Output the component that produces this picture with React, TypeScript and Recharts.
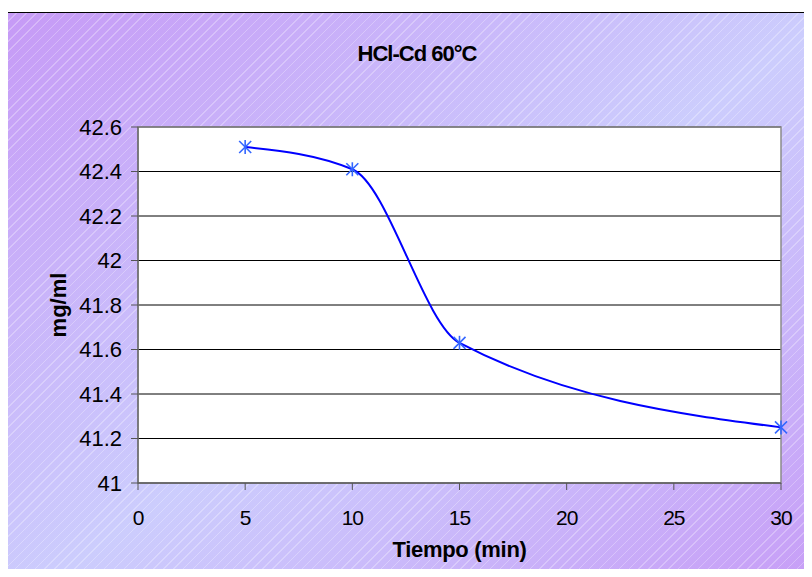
import { CartesianGrid, Label, Line, LineChart, ReferenceArea, XAxis, YAxis } from "recharts";

const tiempo = [5, 10, 15, 30];
const concentracion = [42.51, 42.41, 41.63, 41.25];
const xTicks = [0, 5, 10, 15, 20, 25, 30];
const yTicks = [41, 41.2, 41.4, 41.6, 41.8, 42, 42.2, 42.4, 42.6];

const data = tiempo.map((t, i) => ({ t, v: concentracion[i] }));

const FONT = "Arial, 'Liberation Sans', sans-serif";

function Asterisk(props: any) {
  const { cx, cy } = props;
  if (cx == null || cy == null) return null;
  const r = 6;
  return (
    <g stroke="#3366ff" strokeWidth={1.6}>
      <line x1={cx - r} y1={cy - r} x2={cx + r} y2={cy + r} />
      <line x1={cx - r} y1={cy + r} x2={cx + r} y2={cy - r} />
      <line x1={cx} y1={cy - r - 1} x2={cx} y2={cy + r + 1} />
    </g>
  );
}

export default function App() {
  return (
    <div style={{ position: "relative", width: 812, height: 577, margin: -8, overflow: "hidden" }}>
      <div
        style={{
          position: "absolute",
          left: 5,
          top: 12,
          width: 830,
          height: 600,
          border: "1px solid #000",
          background:
            "repeating-linear-gradient(135deg, rgba(255,255,255,0.28) 0px, rgba(255,255,255,0.28) 1px, transparent 1px, transparent 7px), linear-gradient(to bottom right, #c69af6 0%, #cccdfd 50%, #c79af6 100%)",
        }}
      />
      <div
        style={{
          position: "absolute",
          left: 0,
          top: 41,
          width: 812,
          textAlign: "center",
          paddingLeft: 22,
          boxSizing: "border-box",
          fontFamily: FONT,
          fontWeight: "bold",
          fontSize: 22,
          letterSpacing: -1,
        }}
      >
        HCl-Cd 60°C
      </div>
      <LineChart
        width={812}
        height={577}
        data={data}
        margin={{ top: 127, right: 31, bottom: 0, left: 0 }}
        style={{ position: "absolute", left: 0, top: 0 }}
      >
        <CartesianGrid vertical={false} stroke="#000" fill="#fff" fillOpacity={1} />
        <ReferenceArea x1={0} x2={30} y1={41} y2={42.6} fill="none" stroke="#8a8a8a" strokeWidth={1.5} />
        <XAxis
          dataKey="t"
          type="number"
          domain={[0, 30]}
          ticks={xTicks}
          interval={0}
          stroke="#555"
          tickSize={7}
          tickMargin={20}
          tick={{ fill: "#000", fontSize: 21, fontFamily: FONT, letterSpacing: -1 }}
          height={94}
        >
          <Label
            value="Tiempo (min)"
            position="insideTop"
            offset={58}
            style={{ fill: "#000", fontSize: 22, fontWeight: "bold", fontFamily: FONT, letterSpacing: -0.3 }}
          />
        </XAxis>
        <YAxis
          type="number"
          domain={[41, 42.6]}
          ticks={yTicks}
          interval={0}
          width={138}
          stroke="#555"
          tickSize={7}
          tickMargin={9}
          tick={{ fill: "#000", fontSize: 22, fontFamily: FONT }}
        >
          <Label
            value="mg/ml"
            angle={-90}
            position="insideLeft"
            offset={58}
            style={{ fill: "#000", fontSize: 22, fontWeight: "bold", fontFamily: FONT, textAnchor: "middle" }}
          />
        </YAxis>
        <Line
          dataKey="v"
          type="monotone"
          stroke="#0000ff"
          strokeWidth={2}
          dot={<Asterisk />}
          activeDot={false}
          isAnimationActive={false}
        />
      </LineChart>
    </div>
  );
}
